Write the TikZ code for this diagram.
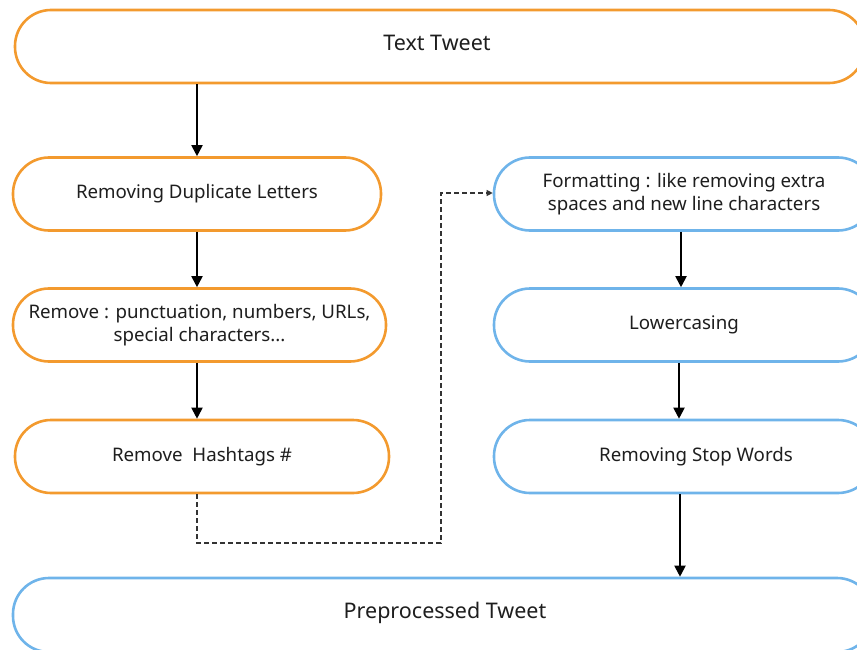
\documentclass[tikz,border=0pt]{standalone}
\usepackage{fontspec}
\setmainfont{Noto Sans}
\usetikzlibrary{arrows.meta}
\definecolor{orangeline}{HTML}{F39A2E}
\definecolor{blueline}{HTML}{6FB4EA}
\definecolor{textgray}{HTML}{1E1E1E}
\newcommand{\twolines}[2]{\raisebox{2pt}{\begin{tabular}{@{}c@{}}#1\\#2\end{tabular}}}
\tikzset{
  stage/.style={draw, line width=2.6pt, rounded corners=36pt, fill=white,
    minimum height=73pt, align=center, text=textgray, font=\fontsize{18.7}{23}\selectfont, inner sep=0pt},
  orangestage/.style={stage, draw=orangeline},
  bluestage/.style={stage, draw=blueline},
  bigtext/.style={text=textgray, font=\fontsize{21.5}{26}\selectfont},
  flow/.style={line width=1.9pt, -{Triangle[length=11pt,width=11pt]}},
  dashflow/.style={line width=1.1pt, draw=black!80, dash pattern=on 5pt off 3pt, -{Triangle[length=6pt,width=6pt]}}
}
\begin{document}
\begin{tikzpicture}[x=1pt,y=-1pt]
\useasboundingbox (0,0) rectangle (857,650);
% left column (orange)
\node[orangestage, minimum width=850pt] (tweet) at (440,46.5) {};
\node[bigtext] at (437,43) {Text Tweet};
\node[orangestage, minimum width=368pt] (dup) at (197,194) {\raisebox{2pt}{Removing Duplicate Letters}};
\node[orangestage, minimum width=373pt] (punct) at (199.5,325) {\twolines{Remove : punctuation, numbers, URLs,}{special characters...}};
\node[orangestage, minimum width=374pt] (hash) at (202,456.5) {Remove\ \ Hashtags \#};
% right column (blue), running past the right edge
\node[bluestage, minimum width=380pt] (fmt) at (684,194) {\twolines{Formatting : like removing extra}{spaces and new line characters}};
\node[bluestage, minimum width=380pt] (lower) at (684,325) {Lowercasing};
\node[bluestage, minimum width=380pt] (stop) at (684,456.5) {\hspace*{24pt}Removing Stop Words};
\node[bluestage, minimum width=860pt, minimum height=74pt] (pre) at (443,615) {};
\node[bigtext] at (445,613) {Preprocessed Tweet};
% solid arrows
\draw[flow] (197,0 |- tweet.south) -- (197,0 |- dup.north);
\draw[flow] (197,0 |- dup.south) -- (197,0 |- punct.north);
\draw[flow] (197,0 |- punct.south) -- (197,0 |- hash.north);
\draw[flow] (681,0 |- fmt.south) -- (681,0 |- lower.north);
\draw[flow] (679,0 |- lower.south) -- (679,0 |- stop.north);
\draw[flow] (680,0 |- stop.south) -- (680,0 |- pre.north);
% dashed link between the two columns
\coordinate (bend1) at (197,543);
\coordinate (bend2) at (441,543);
\coordinate (bend3) at (441,193);
\draw[dashflow] (197,0 |- hash.south) -- (bend1) -- (bend2) -- (bend3) -- (fmt.west |- bend3);
\end{tikzpicture}
\end{document}
